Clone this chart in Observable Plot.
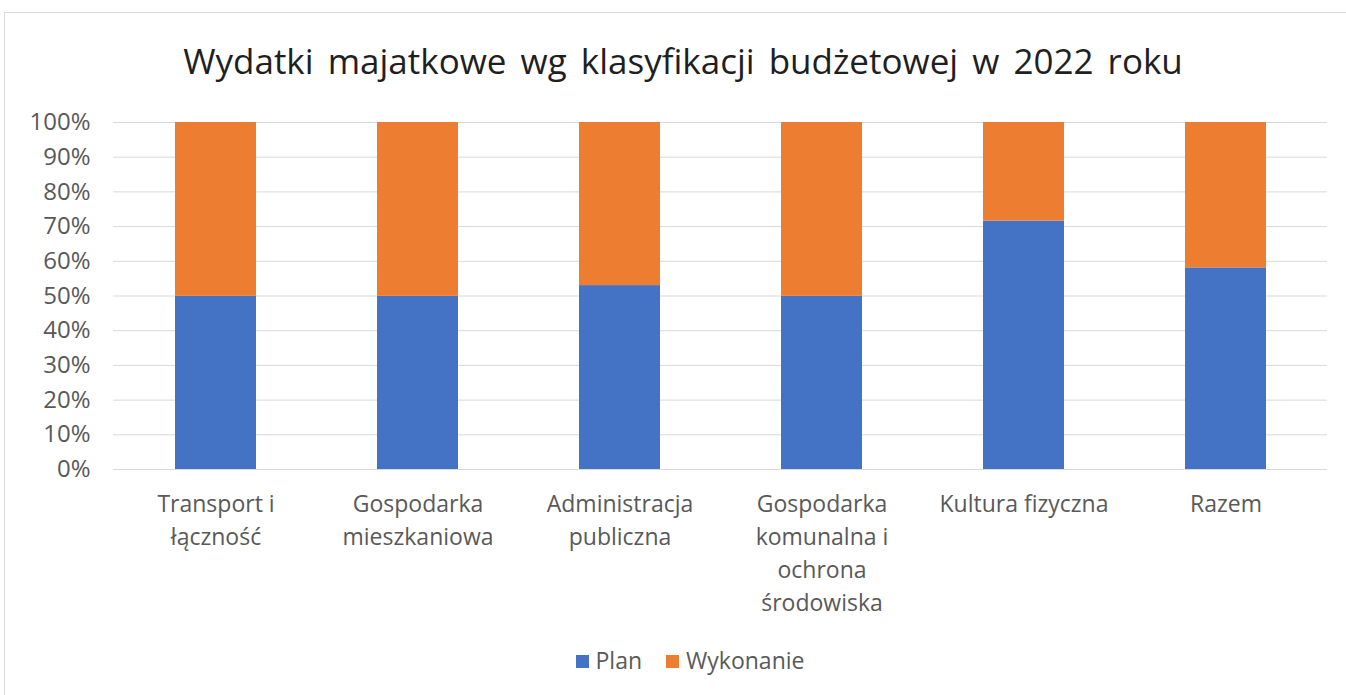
<!DOCTYPE html>
<html><head><meta charset="utf-8">
<script src="https://cdn.jsdelivr.net/npm/d3@7"></script>
<script src="https://cdn.jsdelivr.net/npm/@observablehq/plot@0.6"></script>
<style>
html,body{margin:0;padding:0;background:#fff;width:1346px;height:695px;overflow:hidden;font-family:"Open Sans",sans-serif;}
#frame{position:absolute;left:4px;top:12px;width:1360px;height:700px;border:1px solid #d9d9d9;box-sizing:border-box;}
#title{position:absolute;left:0;width:1366px;top:37px;text-align:center;font-size:35px;word-spacing:5px;color:#1f1f1f;font-family:"Open Sans",sans-serif;white-space:nowrap;}
#chart{position:absolute;left:0;top:0;}
#legend{position:absolute;top:643px;left:0;width:1380px;text-align:center;font-size:23px;color:#595959;line-height:34px;}
#legend span.sw{display:inline-block;width:13px;height:13px;margin-right:7px;vertical-align:middle;position:relative;top:-1px;}
#legend span.it{margin:0 12px;}
</style></head>
<body>
<div id="frame"></div>
<div id="title">Wydatki majatkowe wg klasyfikacji budżetowej w 2022 roku</div>
<div id="chart"></div>
<div id="legend"><span class="it"><span class="sw" style="background:#4472C4"></span>Plan</span><span class="it"><span class="sw" style="background:#ED7D31"></span>Wykonanie</span></div>
<script>
const categories = ["Transport i łączność","Gospodarka mieszkaniowa","Administracja publiczna","Gospodarka komunalna i ochrona środowiska","Kultura fizyczna","Razem"];
const categoryLabels = ["Transport i\nłączność","Gospodarka\nmieszkaniowa","Administracja\npubliczna","Gospodarka\nkomunalna i\nochrona\nśrodowiska","Kultura fizyczna","Razem"];
const series = ["Plan","Wykonanie"];
const plan = [49.9, 49.9, 53.0, 49.9, 71.6, 58.1];
const wykonanie = [50.1, 50.1, 47.0, 50.1, 28.4, 41.9];
const yTicks = [0,10,20,30,40,50,60,70,80,90,100];
const colors = ["#4472C4","#ED7D31"];

const rows = [];
categories.forEach((c,i)=>{
  rows.push({cat:c, series:"Plan", value:plan[i]});
  rows.push({cat:c, series:"Wykonanie", value:wykonanie[i]});
});
const labelOf = new Map(categories.map((c,i)=>[c,categoryLabels[i]]));

const chart = Plot.plot({
  width:1346, height:640,
  marginLeft:113, marginRight:19, marginTop:122, marginBottom:171,
  style:{fontFamily:"'Open Sans', sans-serif", color:"#595959", background:"transparent"},
  x:{domain:categories, paddingInner:0.6, paddingOuter:0.3, label:null},
  y:{domain:[0,100], label:null},
  color:{domain:series, range:colors},
  marks:[
    Plot.gridY(yTicks,{stroke:"#d9d9d9", strokeOpacity:1, strokeWidth:1}),
    Plot.barY(rows, Plot.stackY({order:series}, {x:"cat", y:"value", fill:"series"})),
    Plot.axisY(yTicks,{tickSize:0, tickPadding:23, fontSize:24, tickFormat:d=>d+"%", fill:"#595959", label:null}),
    Plot.axisX({tickSize:0, tickPadding:19, fontSize:23, lineHeight:1.435, tickFormat:d=>labelOf.get(d), fill:"#595959", label:null})
  ]
});
document.getElementById("chart").appendChild(chart);
</script>
</body></html>
